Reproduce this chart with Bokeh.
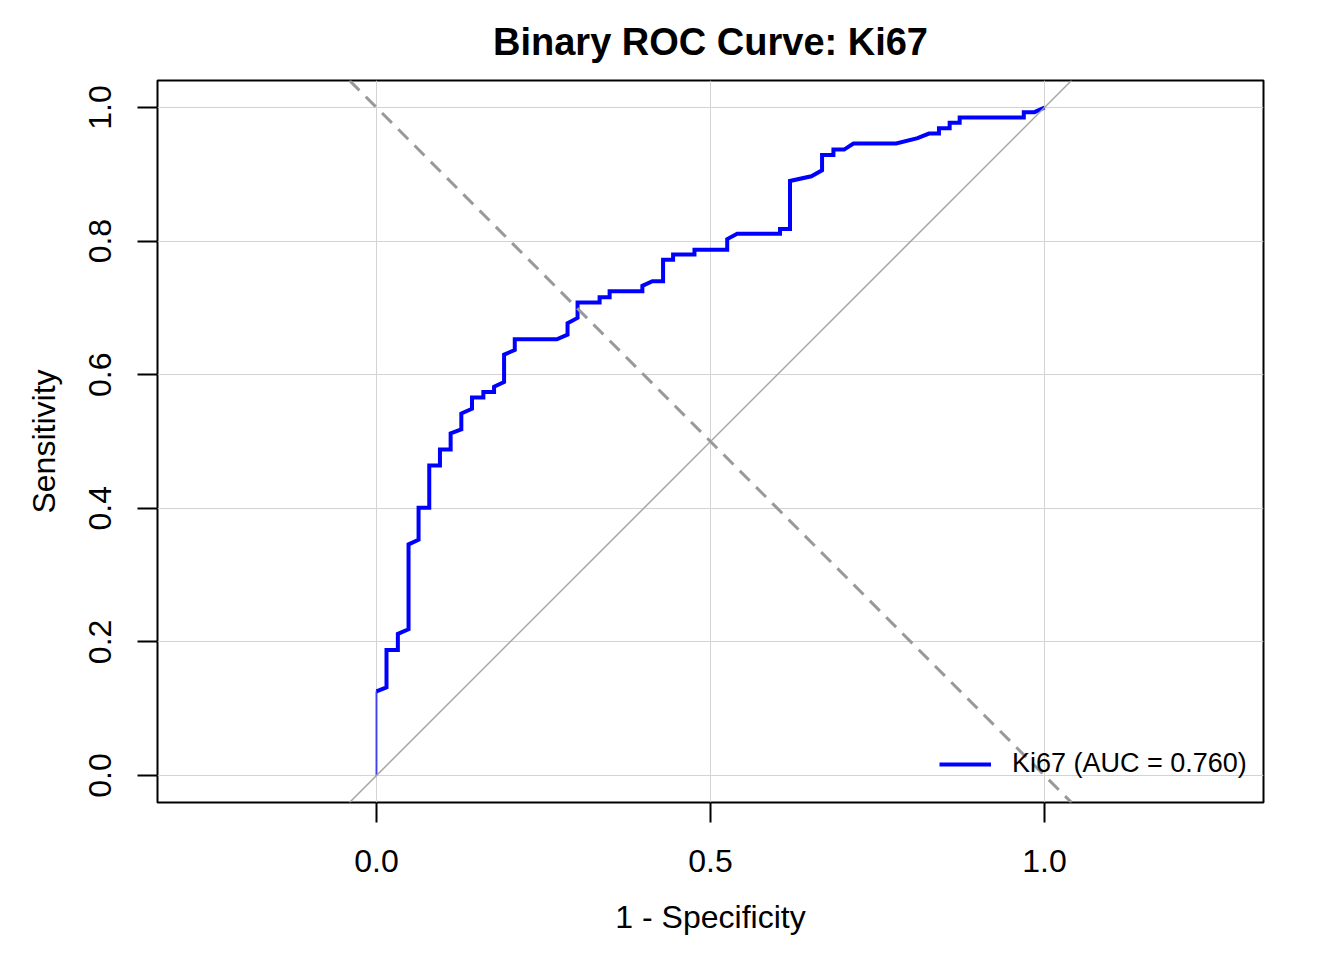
from bokeh.plotting import figure
from bokeh.models import Range1d, FixedTicker, NumeralTickFormatter, Slope, Legend, LegendItem
from bokeh.embed import file_html
from bokeh.resources import INLINE

# ROC curve points (1 - specificity, sensitivity)
fpr = [0.000, 0.000, 0.015, 0.015, 0.032, 0.032, 0.048, 0.048, 0.063, 0.063,
       0.079, 0.079, 0.095, 0.095, 0.111, 0.111, 0.127, 0.127, 0.143, 0.143,
       0.160, 0.160, 0.176, 0.176, 0.191, 0.191, 0.207, 0.207, 0.270, 0.286,
       0.286, 0.301, 0.301, 0.334, 0.334, 0.349, 0.349, 0.398, 0.398, 0.413,
       0.429, 0.429, 0.444, 0.444, 0.476, 0.476, 0.525, 0.525, 0.540, 0.604,
       0.604, 0.619, 0.619, 0.651, 0.667, 0.667, 0.684, 0.684, 0.700, 0.714,
       0.778, 0.810, 0.827, 0.842, 0.842, 0.858, 0.858, 0.873, 0.873, 0.969,
       0.969, 0.985, 1.000]
tpr = [0.000, 0.126, 0.132, 0.188, 0.188, 0.212, 0.219, 0.346, 0.353, 0.401,
       0.401, 0.464, 0.464, 0.488, 0.488, 0.512, 0.518, 0.542, 0.549, 0.566,
       0.566, 0.574, 0.574, 0.582, 0.589, 0.630, 0.637, 0.653, 0.653, 0.660,
       0.677, 0.685, 0.708, 0.708, 0.716, 0.716, 0.725, 0.725, 0.733, 0.740,
       0.740, 0.772, 0.772, 0.780, 0.780, 0.787, 0.787, 0.803, 0.811, 0.811,
       0.818, 0.818, 0.890, 0.897, 0.906, 0.929, 0.929, 0.937, 0.937, 0.946,
       0.946, 0.954, 0.961, 0.961, 0.969, 0.969, 0.977, 0.977, 0.985, 0.985,
       0.993, 0.993, 1.000]

x_ticks = [0.0, 0.5, 1.0]
y_ticks = [0.0, 0.2, 0.4, 0.6, 0.8, 1.0]
title_text = "Binary ROC Curve: Ki67"
legend_label = "Ki67 (AUC = 0.760)"
FONT = "Liberation Sans"

p = figure(width=1336, height=952, output_backend="svg", toolbar_location=None,
           x_range=Range1d(-0.3278, 1.3278), y_range=Range1d(-0.0404, 1.0404),
           min_border_left=157, min_border_right=73, min_border_top=80, min_border_bottom=150,
           title=title_text)

p.title.align = "center"
p.title.text_font = FONT
p.title.text_font_size = "38px"
p.title.text_font_style = "bold"
p.title.text_color = "black"
p.title.standoff = 35

p.outline_line_color = "black"
p.outline_line_width = 2
p.background_fill_color = "white"
p.border_fill_color = "white"

for ax in (p.xaxis[0], p.yaxis[0]):
    ax.axis_line_color = None
    ax.major_tick_line_color = "black"
    ax.major_tick_line_width = 2
    ax.major_tick_out = 20
    ax.major_tick_in = 0
    ax.minor_tick_line_color = None
    ax.major_label_text_font = FONT
    ax.major_label_text_font_size = "32px"
    ax.major_label_text_color = "black"
    ax.axis_label_text_font = FONT
    ax.axis_label_text_font_size = "32px"
    ax.axis_label_text_font_style = "normal"
    ax.axis_label_text_color = "black"
    ax.formatter = NumeralTickFormatter(format="0.0")

p.xaxis.ticker = FixedTicker(ticks=x_ticks)
p.yaxis.ticker = FixedTicker(ticks=y_ticks)
p.xaxis.axis_label = "1 - Specificity"
p.yaxis.axis_label = "Sensitivity"
p.yaxis.major_label_orientation = "vertical"
p.xaxis.major_label_standoff = 27
p.yaxis.major_label_standoff = 26
p.xaxis.axis_label_standoff = 24
p.yaxis.axis_label_standoff = 25

p.xgrid.ticker = FixedTicker(ticks=x_ticks)
p.ygrid.ticker = FixedTicker(ticks=y_ticks)
p.grid.grid_line_color = "#D3D3D3"
p.grid.grid_line_width = 1

# reference lines
p.add_layout(Slope(gradient=1, y_intercept=0, line_color="#A6A6A6", line_width=1.5))
p.add_layout(Slope(gradient=-1, y_intercept=1, line_color="#999999", line_width=3,
                   line_dash="14 9"))

# ROC curve
p.line(fpr[:2], tpr[:2], line_color="blue", line_width=2, line_alpha=0.7)
roc = p.line(fpr[1:], tpr[1:], line_color="blue", line_width=4, line_join="miter")

legend = Legend(items=[LegendItem(label=legend_label, renderers=[roc])],
                location=(782, 23), orientation="vertical",
                border_line_color=None, background_fill_alpha=0,
                padding=0, margin=0, spacing=0,
                glyph_width=52, glyph_height=30, label_height=30, label_standoff=21,
                label_text_font=FONT, label_text_font_size="27px", label_text_color="black")
p.add_layout(legend, "center")

open("out.html", "w").write(file_html(p, INLINE))
